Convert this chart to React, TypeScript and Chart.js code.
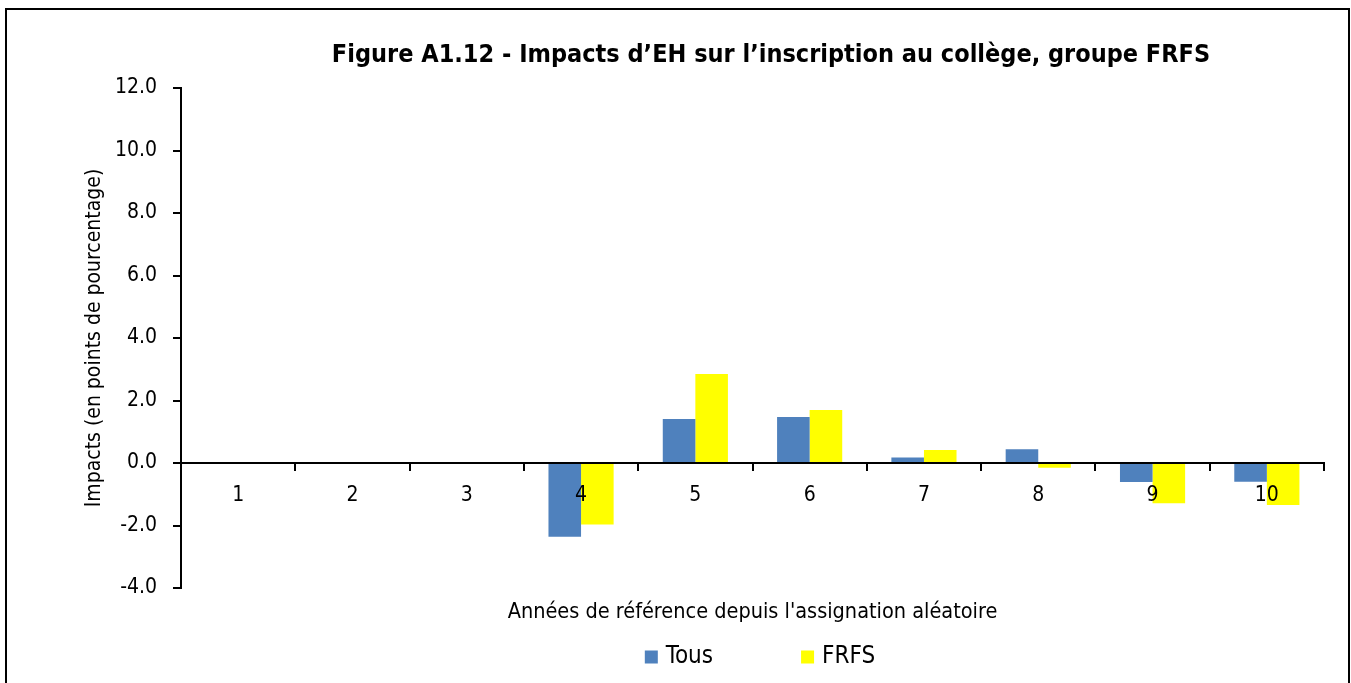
import React, { useEffect, useRef } from "react";
import { Chart, registerables } from "chart.js";

Chart.register(...registerables);

const categories = ["1", "2", "3", "4", "5", "6", "7", "8", "9", "10"];
const tousValues = [null, null, null, -2.36, 1.41, 1.47, 0.18, 0.44, -0.61, -0.6];
const frfsValues = [null, null, null, -1.97, 2.85, 1.7, 0.42, -0.15, -1.29, -1.34];
const yTicks = { min: -4, max: 12, step: 2 };

const chartTitle = "Figure A1.12 - Impacts d\u2019EH sur l\u2019inscription au coll\u00e8ge, groupe FRFS";
const xTitle = "Ann\u00e9es de r\u00e9f\u00e9rence depuis l'assignation al\u00e9atoire";
const yTitle = "Impacts (en points de pourcentage)";

const FONT = "'Liberation Sans Narrow', 'Arial Narrow', 'DejaVu Sans Condensed', sans-serif";

const overlayPlugin = {
  id: "overlayText",
  afterDraw(chart: any) {
    const { ctx, chartArea } = chart;
    ctx.save();
    ctx.fillStyle = "#000";
    ctx.textBaseline = "middle";
    // Title
    ctx.font = `bold 25px ${FONT}`;
    ctx.textAlign = "center";
    ctx.fillText(chartTitle, 771, 55);
    // X title
    ctx.font = `21.5px ${FONT}`;
    ctx.fillText(xTitle, (chartArea.left + chartArea.right) / 2, 612);
    // Legend
    ctx.font = `24px ${FONT}`;
    ctx.textAlign = "left";
    const box = 13;
    const gapText = 8;
    const gapItem = 88;
    const items = chart.data.datasets.map((d: any) => ({
      label: d.label,
      color: d.backgroundColor,
      w: box + gapText + ctx.measureText(d.label).width,
    }));
    const total = items.reduce((s: number, it: any) => s + it.w, 0) + gapItem * (items.length - 1);
    let x = 760 - total / 2;
    const yMid = 657;
    items.forEach((it: any) => {
      ctx.fillStyle = it.color;
      ctx.fillRect(x, yMid - box / 2, box, box);
      ctx.fillStyle = "#000";
      ctx.fillText(it.label, x + box + gapText, yMid);
      x += it.w + gapItem;
    });
    ctx.restore();
  },
};

export default function App() {
  const ref = useRef<HTMLCanvasElement>(null);
  useEffect(() => {
    if (!ref.current) return;
    const chart = new Chart(ref.current, {
      type: "bar",
      data: {
        labels: categories,
        datasets: [
          { label: "Tous", data: tousValues, backgroundColor: "#4F81BD", categoryPercentage: 0.57, barPercentage: 1 },
          { label: "FRFS", data: frfsValues, backgroundColor: "#FFFF00", categoryPercentage: 0.57, barPercentage: 1 },
        ],
      },
      options: {
        responsive: false,
        animation: false,
        layout: { padding: { left: 80, right: 27, top: 88, bottom: 95 } },
        plugins: { legend: { display: false }, title: { display: false }, tooltip: { enabled: false } },
        scales: {
          x: {
            type: "category",
            position: { y: 0 } as any,
            offset: true,
            grid: { offset: true, drawOnChartArea: false, drawTicks: true, tickLength: 7, color: "#000", lineWidth: 2, z: 1 } as any,
            border: { display: true, color: "#000", width: 2, z: 1 } as any,
            ticks: { color: "#000", font: { family: FONT, size: 21 }, padding: 13, maxRotation: 0, z: 1 },
          },
          y: {
            min: yTicks.min,
            max: yTicks.max,
            afterFit: (scale: any) => {
              scale.width = 101;
            },
            grid: { drawOnChartArea: false, drawTicks: true, tickLength: 8, color: "#000", lineWidth: 2 },
            border: { display: true, color: "#000", width: 2 },
            ticks: {
              stepSize: yTicks.step,
              color: "#000",
              font: { family: FONT, size: 21 },
              padding: 16,
              callback: (v: any) => Number(v).toFixed(1),
            },
            title: { display: true, text: yTitle, color: "#000", font: { family: FONT, size: 21 }, padding: { top: 2, bottom: 0 } },
          },
        },
      },
      plugins: [overlayPlugin],
    });
    return () => chart.destroy();
  }, []);

  return (
    <div style={{ position: "absolute", left: 0, top: 0, width: 1351, height: 683, overflow: "hidden", background: "#fff" }}>
      <div
        style={{
          position: "absolute",
          left: 5,
          top: 8,
          width: 1345,
          height: 720,
          border: "2px solid #000",
          boxSizing: "border-box",
        }}
      />
      <canvas ref={ref} width={1351} height={683} style={{ position: "absolute", left: 0, top: 0 }} />
    </div>
  );
}
